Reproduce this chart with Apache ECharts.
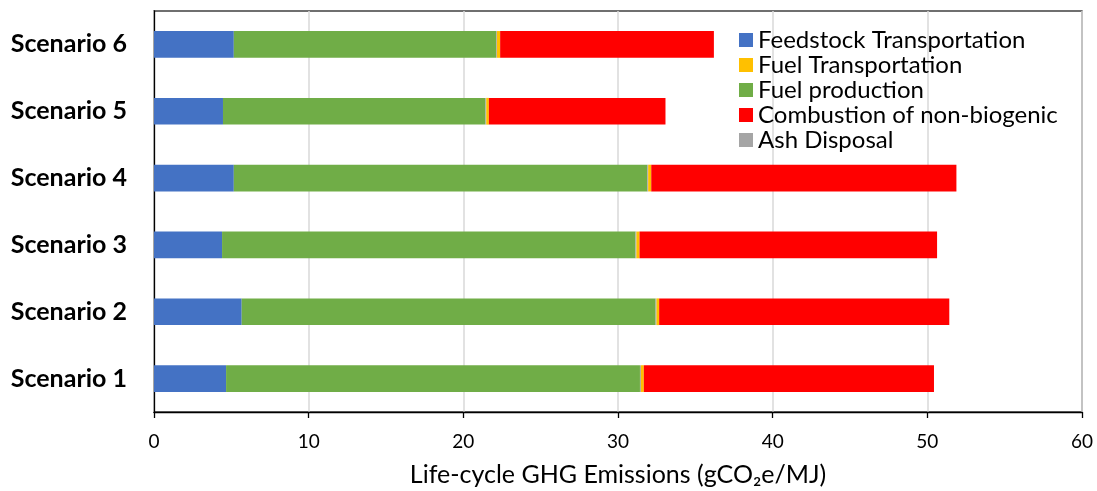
<!DOCTYPE html>
<html>
<head>
<meta charset="utf-8">
<script src="https://cdn.jsdelivr.net/npm/echarts@6/dist/echarts.min.js"></script>
<style>
  html, body { margin: 0; padding: 0; background: #fff; }
  #app { width: 1097px; height: 491px; }
</style>
</head>
<body>
<div id="app"></div>
<script>
// bottom to top, same as the picture
var scenarios = ['Scenario 1', 'Scenario 2', 'Scenario 3', 'Scenario 4', 'Scenario 5', 'Scenario 6'];
var feedstockTransport = [4.66, 5.67, 4.40, 5.16, 4.46, 5.16];
var fuelProduction = [26.76, 26.76, 26.73, 26.73, 16.97, 16.96];
var ashDisposal = [0.06, 0.06, 0.06, 0.06, 0.05, 0.05];
var fuelTransport = [0.19, 0.17, 0.20, 0.20, 0.17, 0.21];
var combustion = [18.76, 18.76, 19.24, 19.73, 11.42, 13.82];
var xTicks = [0, 10, 20, 30, 40, 50, 60];

var fontName = 'Lato, "Open Sans", sans-serif';

function barSeries(name, data, color) {
  return {
    name: name,
    type: 'bar',
    stack: 'total',
    data: data,
    barWidth: '40%',
    itemStyle: { color: color },
    emphasis: { disabled: true }
  };
}

window.onload = function() {
  var myChart = echarts.init(document.getElementById('app'));

  myChart.setOption({
    backgroundColor: '#fff',
    animation: false,
    textStyle: { fontFamily: fontName },
    grid: {
      left: 154,
      right: 15,
      top: 11,
      bottom: 79,
      outerBoundsMode: 'none',
      containLabel: false,
      show: true,
      borderColor: '#404040',
      borderWidth: 1.3
    },
    legend: {
      orient: 'vertical',
      left: 734,
      top: 23,
      itemWidth: 14,
      itemHeight: 14,
      itemGap: 1,
      icon: 'rect',
      textStyle: { fontSize: 24, color: '#000', fontFamily: fontName, lineHeight: 20, padding: [0, 0, 0, 0] },
      data: ['Feedstock Transportation', 'Fuel Transportation', 'Fuel production',
        'Combustion of non-biogenic', 'Ash Disposal']
    },
    xAxis: {
      type: 'value',
      min: 0,
      max: 60,
      interval: 10,
      name: 'Life-cycle GHG Emissions (gCO\u2082e/MJ)',
      nameLocation: 'middle',
      nameGap: 50,
      nameTextStyle: { fontSize: 25, color: '#000', fontFamily: fontName },
      axisLine: { show: true, lineStyle: { color: '#000', width: 1.3 } },
      axisTick: { show: true, length: 6, lineStyle: { color: '#000', width: 1.3 } },
      axisLabel: {
        fontSize: 19, color: '#000', margin: 20,
        formatter: function(v) { return xTicks.indexOf(v) >= 0 ? String(v) : ''; }
      },
      splitLine: { show: true, lineStyle: { color: '#d9d9d9', width: 1.5 } }
    },
    yAxis: {
      type: 'category',
      data: scenarios,
      axisLine: { show: true, lineStyle: { color: '#000', width: 1.3 } },
      axisTick: { show: false },
      axisLabel: { fontSize: 25, fontWeight: 'bold', color: '#000', margin: 27, fontFamily: fontName },
      splitLine: { show: false }
    },
    series: [
      barSeries('Feedstock Transportation', feedstockTransport, '#4472c4'),
      barSeries('Fuel production', fuelProduction, '#70ad47'),
      barSeries('Ash Disposal', ashDisposal, '#a5a5a5'),
      barSeries('Fuel Transportation', fuelTransport, '#ffc000'),
      barSeries('Combustion of non-biogenic', combustion, '#ff0000')
    ]
  });
};
</script>
</body>
</html>
